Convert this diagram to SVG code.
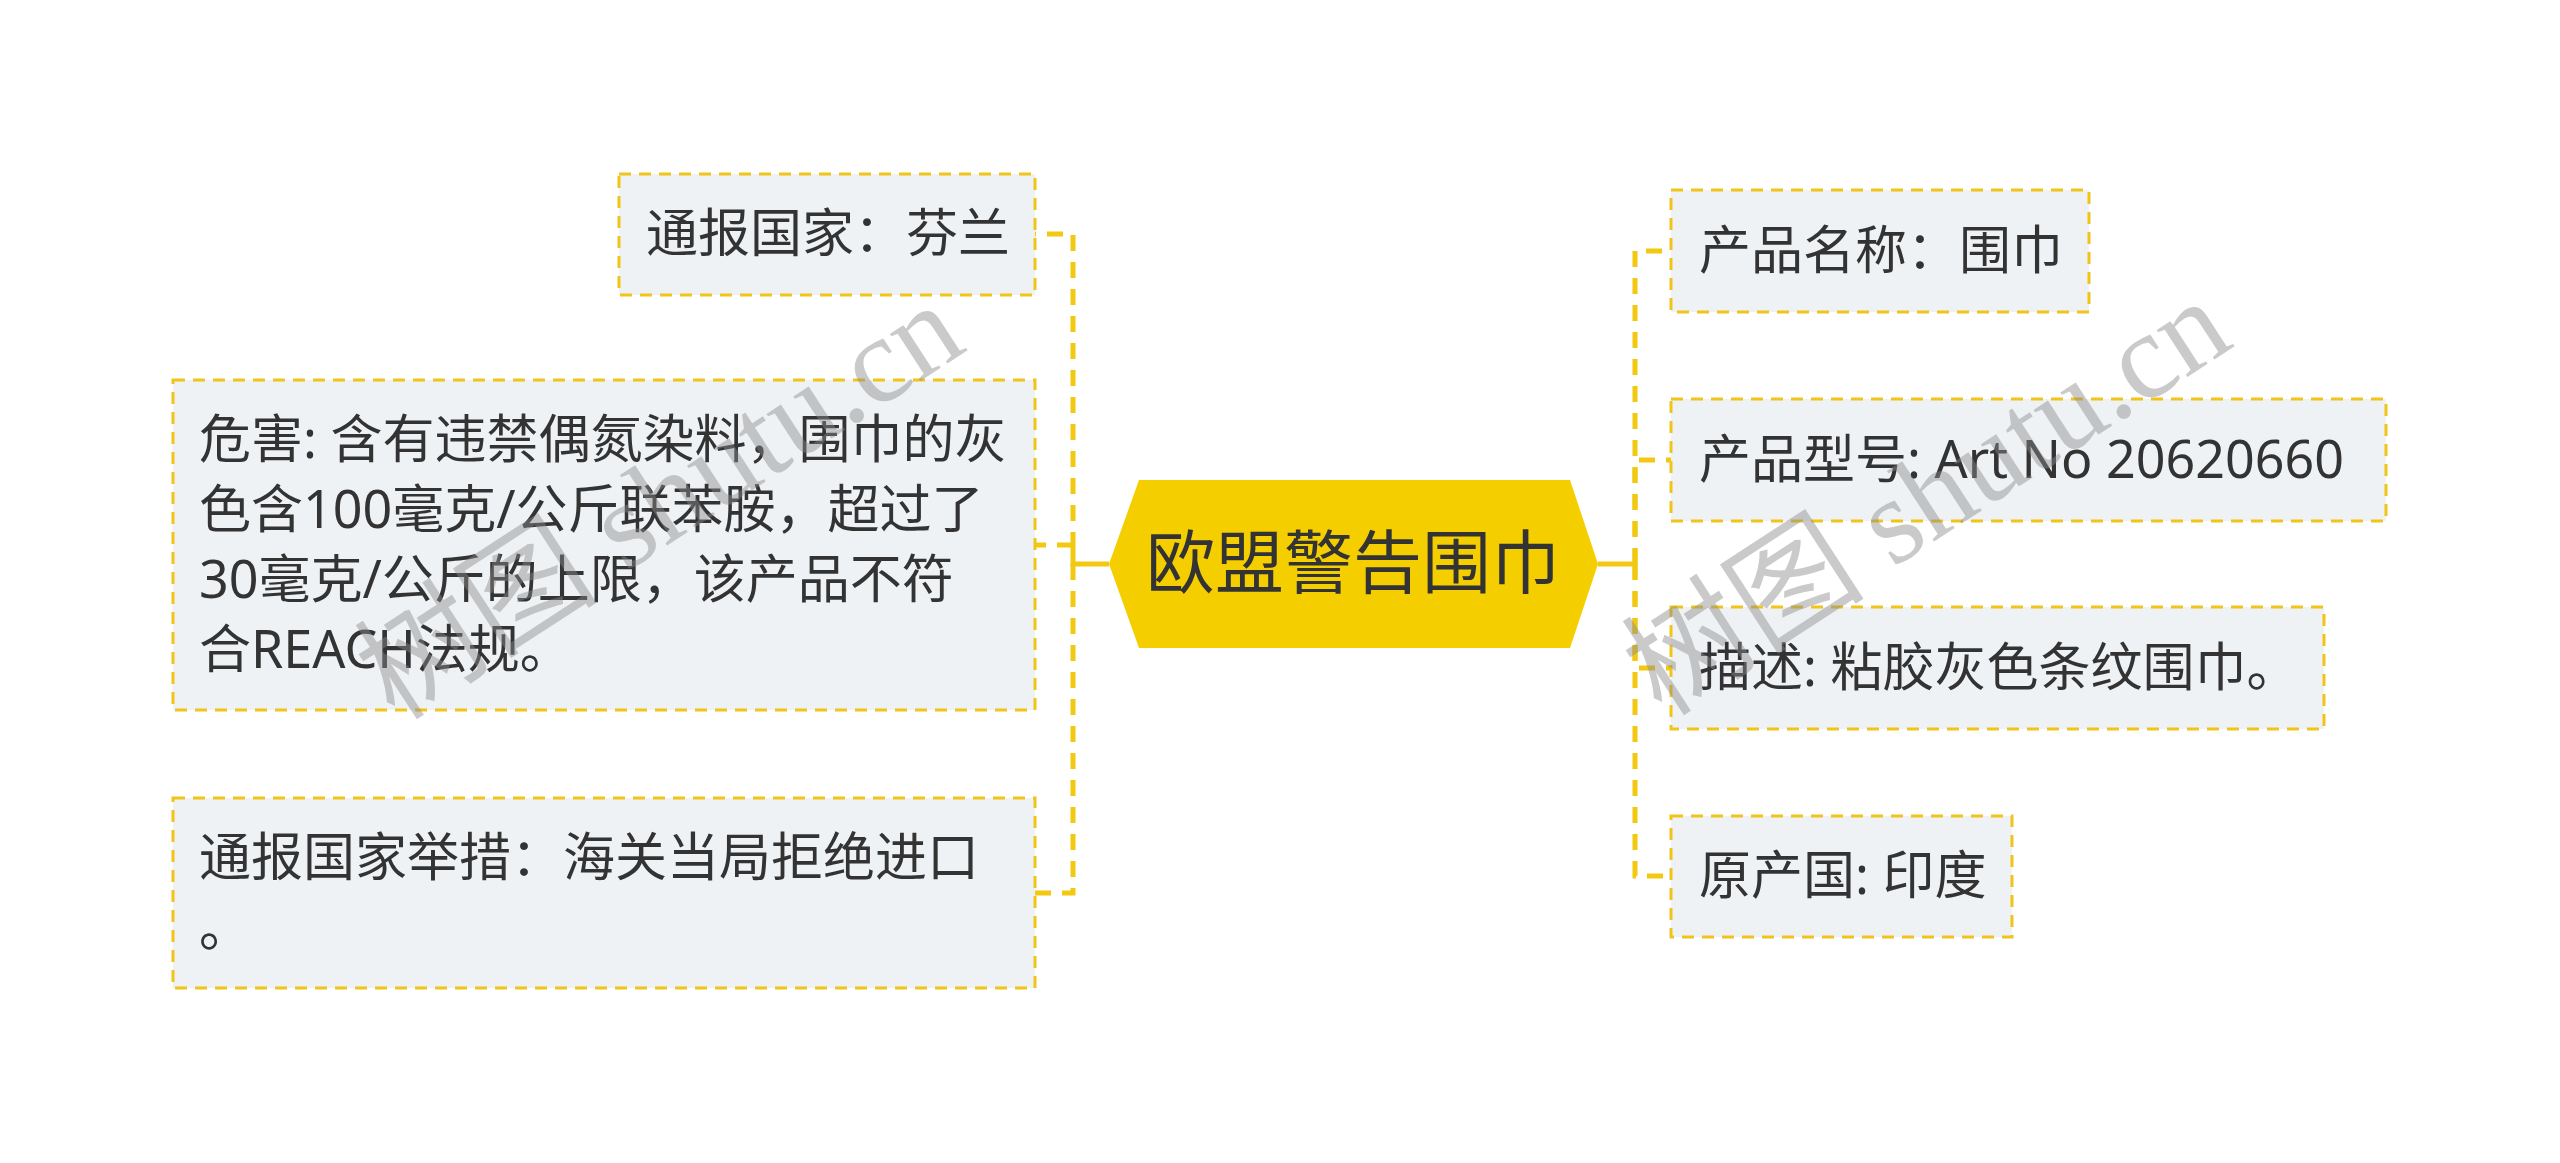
<svg xmlns="http://www.w3.org/2000/svg" width="2560" height="1163" viewBox="0 0 2560 1163">
<style>
.box{fill:#EFF2F5;stroke:#F0C419;stroke-width:3;stroke-dasharray:12 8}
.t{font-family:"Noto Sans","Noto Sans CJK SC",sans-serif;font-size:52px;fill:#333333}
.ct{font-family:"Noto Sans CJK SC",sans-serif;font-size:69px;fill:#333333;text-anchor:middle}
.link{fill:none;stroke:#F2C811;stroke-width:5;stroke-dasharray:16 11}
.stub{fill:none;stroke:#F2C811;stroke-width:5}
.wm{font-family:"Liberation Serif","Noto Sans CJK SC",serif;font-size:122px;fill:#8a8a8a;fill-opacity:0.45}
</style>
<rect width="2560" height="1163" fill="#ffffff"/>
<g id="connectors">
<path class="stub" d="M1109 564 H1073 V548"/>
<path class="stub" d="M1598 564 H1635"/>
<path class="link" d="M1073 548 V234 H1035"/>
<path class="link" d="M1073 545 H1035"/>
<path class="link" d="M1073 564 V893 H1035"/>
<path class="link" d="M1635 564 V251 H1671"/>
<path class="link" d="M1635 564 V460 H1671"/>
<path class="link" d="M1635 564 V668 H1671"/>
<path class="link" d="M1635 564 V876 H1671"/>
</g>
<g id="center">
<polygon points="1109,564 1139,480 1570,480 1598,564 1570,648 1139,648" fill="#F5CE00"/>
<text class="ct" x="1353" y="588">欧盟警告围巾</text>
</g>
<g id="node-country">
<rect class="box" x="619" y="174" width="416" height="121"/>
<text class="t" x="646" y="252">通报国家：芬兰</text>
</g>
<g id="node-hazard">
<rect class="box" x="173" y="380" width="862" height="330"/>
<text class="t" x="199" y="458">危害: 含有违禁偶氮染料，围巾的灰</text>
<text class="t" x="199" y="528">色含100毫克/公斤联苯胺，超过了</text>
<text class="t" x="199" y="598">30毫克/公斤的上限，该产品不符</text>
<text class="t" x="199" y="668">合REACH法规。</text>
</g>
<g id="node-measure">
<rect class="box" x="173" y="798" width="862" height="190"/>
<text class="t" x="199" y="876">通报国家举措：海关当局拒绝进口</text>
<text class="t" x="199" y="946">。</text>
</g>
<g id="node-name">
<rect class="box" x="1671" y="190" width="418" height="122"/>
<text class="t" x="1699" y="269">产品名称：围巾</text>
</g>
<g id="node-model">
<rect class="box" x="1671" y="399" width="715" height="122"/>
<text class="t" x="1699" y="478">产品型号: Art No 20620660</text>
</g>
<g id="node-desc">
<rect class="box" x="1671" y="607" width="653" height="122"/>
<text class="t" x="1699" y="686">描述: 粘胶灰色条纹围巾。</text>
</g>
<g id="node-origin">
<rect class="box" x="1671" y="816" width="341" height="121"/>
<text class="t" x="1699" y="894">原产国: 印度</text>
</g>
<g id="watermarks">
<text class="wm" transform="translate(395,722) rotate(-33)">树图 shutu.cn</text>
<text class="wm" transform="translate(1662,718) rotate(-33)">树图 shutu.cn</text>
</g>
</svg>
